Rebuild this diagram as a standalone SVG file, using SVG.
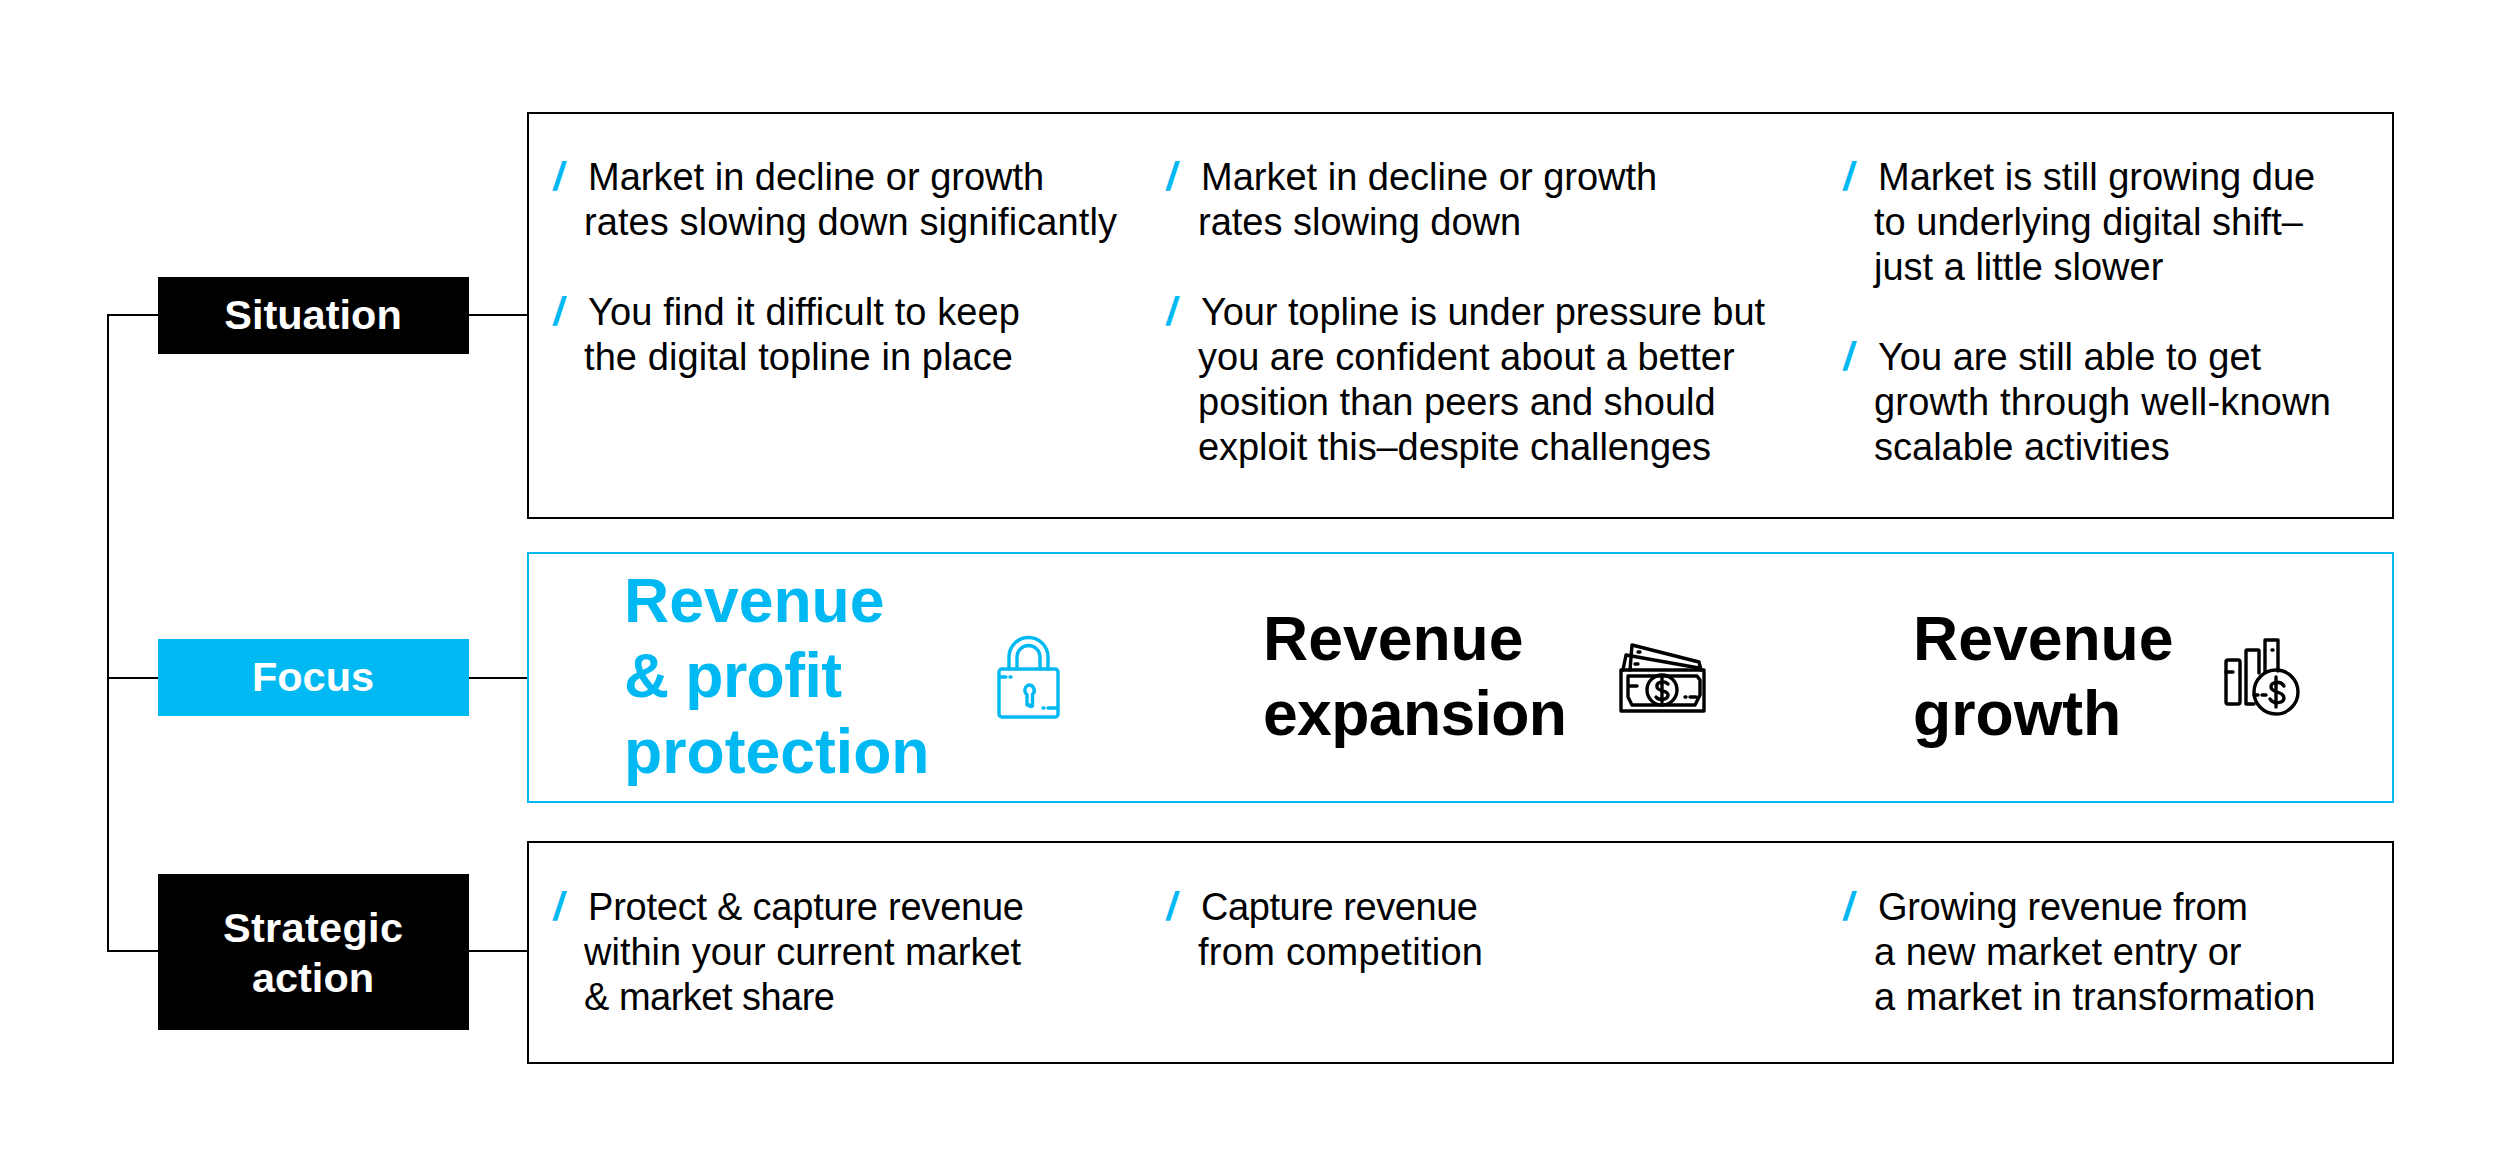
<svg xmlns="http://www.w3.org/2000/svg" width="2500" height="1172" viewBox="0 0 2500 1172">
<style>
text{font-family:"Liberation Sans",Arial,sans-serif}
.t{font-size:38px;fill:#000}
.s{font-size:40px;fill:#00b9f2;font-weight:700}
.n{font-size:41.500px;font-weight:700;fill:#fff;text-anchor:middle}
.h{font-size:62.500px;font-weight:700;fill:#000}
.hb{fill:#00b9f2}
.box{fill:#fff;stroke:#000;stroke-width:2}
.ln{fill:none;stroke:#000;stroke-width:2}
.ik{fill:none;stroke:#000;stroke-width:3.400;stroke-linejoin:round;stroke-linecap:round}
.ib{fill:none;stroke:#00b9f2;stroke-width:3.400;stroke-linejoin:round;stroke-linecap:round}
</style>
<g id="connectors">
<path class="ln" d="M158 315H108V951H158M108 678H158M469 315H528M469 678H528M469 951H528"/>
</g>
<g id="node-situation"><rect x="158" y="277" width="311" height="77"/><text class="n" x="313" y="329">Situation</text></g>
<g id="node-focus"><rect x="158" y="639" width="311" height="77" fill="#00b9f2"/><text class="n" x="313" y="691">Focus</text></g>
<g id="node-strategic"><rect x="158" y="874" width="311" height="156"/><text class="n" x="313" y="942" textLength="180">Strategic</text><text class="n" x="313" y="992">action</text></g>
<g id="box-situation">
<rect class="box" x="528" y="113" width="1865" height="405"/>
<text class="s" transform="translate(552 190) skewX(-8)">/</text><text class="t" x="588" y="190">Market in decline or growth</text><text class="t" x="584" y="235" textLength="533">rates slowing down significantly</text>
<text class="s" transform="translate(552 325) skewX(-8)">/</text><text class="t" x="588" y="325" textLength="432">You find it difficult to keep</text><text class="t" x="584" y="370" textLength="429">the digital topline in place</text>
<text class="s" transform="translate(1165 190) skewX(-8)">/</text><text class="t" x="1201" y="190">Market in decline or growth</text><text class="t" x="1198" y="235">rates slowing down</text>
<text class="s" transform="translate(1165 325) skewX(-8)">/</text><text class="t" x="1201" y="325" textLength="564">Your topline is under pressure but</text><text class="t" x="1198" y="370">you are confident about a better</text><text class="t" x="1198" y="415">position than peers and should</text><text class="t" x="1198" y="460" textLength="513">exploit this–despite challenges</text>
<text class="s" transform="translate(1842 190) skewX(-8)">/</text><text class="t" x="1878" y="190">Market is still growing due</text><text class="t" x="1874" y="235">to underlying digital shift–</text><text class="t" x="1874" y="280">just a little slower</text>
<text class="s" transform="translate(1842 370) skewX(-8)">/</text><text class="t" x="1878" y="370">You are still able to get</text><text class="t" x="1874" y="415" textLength="457">growth through well-known</text><text class="t" x="1874" y="460">scalable activities</text>
</g>
<g id="box-focus">
<rect x="528" y="553" width="1865" height="249" fill="#fff" stroke="#00b9f2" stroke-width="2"/>
<text class="h hb" x="624" y="622" style="fill:#00b9f2">Revenue</text><text class="h" x="624" y="697" textLength="218" style="fill:#00b9f2">&amp; profit</text><text class="h" x="624" y="773" style="fill:#00b9f2">protection</text>
<text class="h" x="1263" y="660">Revenue</text><text class="h" x="1263" y="735" textLength="304">expansion</text>
<text class="h" x="1913" y="660">Revenue</text><text class="h" x="1913" y="735">growth</text>
</g>
<g id="icon-lock" class="ib">
<rect x="999" y="669" width="59" height="48" rx="3"/>
<path d="M1009 669V657a19.500 19.500 0 0 1 39 0V669M1017 669V657a11.500 11.500 0 0 1 23 0V669"/>
<path d="M1028.500 685a5.500 5.500 0 0 1 4 9.500V705a1.500 1.500 0 0 1-3 0H1027V694.500a5.500 5.500 0 0 1 1.500-9.500Z"/>
<path d="M1001 677H1006M1010 677H1011M1043 708H1044M1048 708H1056"/>
</g>
<g id="icon-cash" class="ik">
<rect x="1621" y="670" width="83" height="41"/>
<path d="M1623 670L1626 655L1699 668M1630 670L1632 645L1699 662L1701 670"/>
<path d="M1628 676H1697L1700 680V695L1695 705H1632L1628 697Z"/>
<circle cx="1662" cy="690" r="15"/>
<path d="M1668 684C1664 680 1656 682 1657 687C1658 692 1668 690 1668 695C1668 700 1659 701 1656 697M1662 678V702M1629 686H1637M1685 697H1686M1690 697H1696M1638 652H1640M1635 664H1638"/>
</g>
<g id="icon-chart" class="ik">
<rect x="2226" y="660" width="14" height="44" rx="2"/>
<path d="M2246 700V651a1 1 0 0 1 1-1H2258a1 1 0 0 1 1 1V673M2246 700V704H2254"/>
<path d="M2265 672V641a1 1 0 0 1 1-1H2278V671M2265 640H2278M2272 650H2273M2226 672H2233"/>
<circle cx="2276" cy="692" r="22"/>
<path d="M2284 686C2280 680 2271 682 2271 687C2271 693 2284 691 2284 698C2284 703 2274 705 2270 699M2276 677V707M2254 695H2258M2262 695H2266"/>
</g>
<g id="box-action">
<rect class="box" x="528" y="842" width="1865" height="221"/>
<text class="s" transform="translate(552 920) skewX(-8)">/</text><text class="t" x="588" y="920" textLength="436">Protect &amp; capture revenue</text><text class="t" x="584" y="965">within your current market</text><text class="t" x="584" y="1010" textLength="251">&amp; market share</text>
<text class="s" transform="translate(1165 920) skewX(-8)">/</text><text class="t" x="1201" y="920" textLength="277">Capture revenue</text><text class="t" x="1198" y="965" textLength="285">from competition</text>
<text class="s" transform="translate(1842 920) skewX(-8)">/</text><text class="t" x="1878" y="920" textLength="370">Growing revenue from</text><text class="t" x="1874" y="965">a new market entry or</text><text class="t" x="1874" y="1010">a market in transformation</text>
</g>
</svg>
